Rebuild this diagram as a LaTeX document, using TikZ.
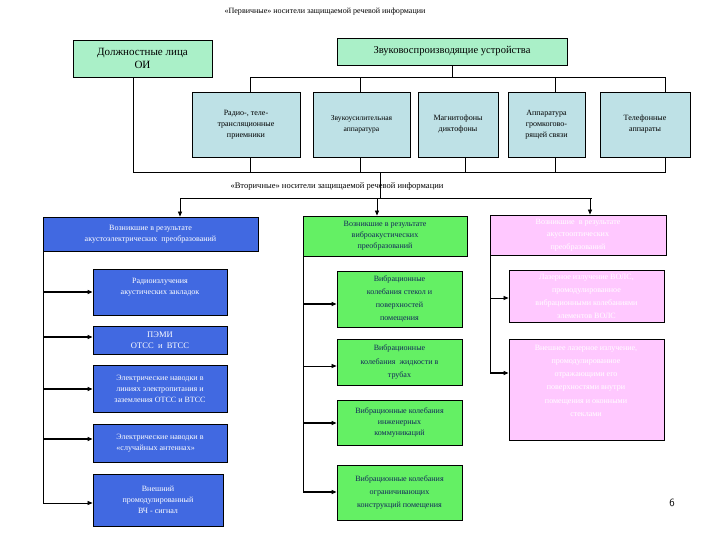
\documentclass[tikz,border=0pt]{standalone}
\usepackage{fontspec}
\setmainfont{Liberation Serif}
\usetikzlibrary{arrows.meta}
\definecolor{lg}{RGB}{170,240,200}
\definecolor{lb}{RGB}{190,225,230}
\definecolor{bb}{RGB}{65,105,225}
\definecolor{gg}{RGB}{100,240,100}
\definecolor{pk}{RGB}{255,200,255}
\definecolor{tx}{RGB}{20,40,90}
\begin{document}
\begin{tikzpicture}[x=0.035cm,y=-0.035cm,
 bx/.style={draw=black,thick,align=center,inner sep=1pt,font=\fontsize{7.5}{9.5}\selectfont},
 ln/.style={thick},
 ar/.style={very thick,-{Triangle[length=5pt,width=4pt]}},
 arr/.style={thick,-{Triangle[length=5pt,width=4pt]}}]
\useasboundingbox (0,0) rectangle (720,540);
\node[font=\fontsize{8}{9}\selectfont] (t1) at (325,12) {«Первичные» носители защищаемой речевой информации};
\newcommand{\bxat}[7]{\node[bx,fill=#5,text=#6,minimum width={(#3-#1)*0.035cm},minimum height={(#4-#2)*0.035cm},text width={(#3-#1)*0.035cm-4pt}] (#7) at ({(#1+#3)/2},{(#2+#4)/2}) {};}
\bxat{73}{40}{212}{77}{lg}{black}{dl}
\node[font=\fontsize{11}{13}\selectfont,align=center] at (dl) {Должностные лица\\ОИ};
\bxat{337}{38}{567}{65}{lg}{black}{zv}
\node[font=\fontsize{10.5}{12}\selectfont] at (zv) {Звуковоспроизводящие устройства};
\bxat{192}{92}{300}{157}{lb}{black}{a1}
\bxat{313}{92}{410}{157}{lb}{black}{a2}
\bxat{418}{92}{498}{157}{lb}{black}{a3}
\bxat{508}{92}{585}{157}{lb}{black}{a4}
\bxat{600}{92}{690}{157}{lb}{black}{a5}
\tikzset{st/.style={align=center,font=\fontsize{8}{11}\selectfont}}
\node[st] at (a1) {Радио-, теле-\\трансляционные\\приемники};
\node[st,font=\fontsize{7.5}{11}\selectfont] at (a2) {Звукоусилительная\\аппаратура};
\node[st] at (a3) {Магнитофоны\\диктофоны};
\node[st] at (a4) {Аппаратура\\громкогово-\\рящей связи};
\node[st] at (a5) {Телефонные\\аппараты};
\coordinate (b1) at (452,77);
\draw[ln] (zv.south) -- (b1);
\draw[ln] (250,92) |- (665,77) -- (665,92);
\draw[ln] (360,77) -- (360,92);
\draw[ln] (555,77) -- (555,92);
\draw[ln] (dl.south -| 133,0) -- (133,172) -- (665,172) -- (a5.south -| 665,0);
\foreach \x/\n in {250/a1,360/a2,465/a3,555/a4} \draw[ln] (\n.south -| \x,0) -- (\x,172);
\draw[ln] (380,172) -- (380,198);
\node[font=\fontsize{8.5}{9}\selectfont] (t2) at (337,186) {«Вторичные» носители защищаемой речевой информации};
\draw[ln] (180,198) -- (592,198);
% blue
\bxat{43}{217}{258}{251}{bb}{white}{h1}
\node[st,text=white] at (h1) {Возникшие в результате\\акустоэлектрических\ \ преобразований};
\bxat{93}{269}{227}{315}{bb}{white}{u1}
\bxat{93}{326}{227}{354}{bb}{white}{u2}
\bxat{93}{365}{227}{412}{bb}{white}{u3}
\bxat{93}{424}{227}{462}{bb}{white}{u4}
\bxat{93}{474}{223}{526}{bb}{white}{u5}
\node[st,text=white] at (160,287) {Радиоизлучения\\акустических закладок};
\node[st,text=white,font=\fontsize{8.5}{11}\selectfont] at (u2) {ПЭМИ\\ОТСС\ \ и\ \ ВТСС};
\node[st,text=white] at (u3) {Электрические наводки в\\линиях электропитания и\\заземления ОТСС и ВТСС};
\node[st,text=white,align=left] at (u4) {Электрические наводки в\\«случайных антеннах»};
\node[st,text=white] at (u5) {Внешний\\промодулированный\\ВЧ - сигнал};
\draw[arr] (180,198) -- (h1.north -| 180,0);
\draw[ln] (43,243) -- (43,503);
\draw[ar] (43,292) -- (u1.west |- 0,292);
\draw[ar] (43,337) -- (u2.west |- 0,337);
\draw[ar] (43,389) -- (u3.west |- 0,389);
\draw[ar] (43,439) -- (u4.west |- 0,439);
\draw[arr] (43,503) -- (u5.west |- 0,503);
% green
\bxat{303}{216}{467}{256}{gg}{tx}{h2}
\node[st,text=tx] at (h2) {Возникшие в результате\\виброакустических\\преобразований};
\bxat{337}{271}{462}{327}{gg}{tx}{g1}
\bxat{337}{339}{462}{385}{gg}{tx}{g2}
\bxat{337}{400}{462}{445}{gg}{tx}{g3}
\bxat{337}{465}{462}{520}{gg}{tx}{g4}
\node[st,text=tx,font=\fontsize{8}{13}\selectfont] at (g1) {Вибрационные\\колебания стекол и\\поверхностей\\помещения};
\node[st,text=tx,font=\fontsize{8}{13}\selectfont] at (g2) {Вибрационные\\колебания\ \ жидкости в\\трубах};
\node[st,text=tx] at (g3) {Вибрационные колебания\\инженерных\\коммуникаций};
\node[st,text=tx,font=\fontsize{8}{12.5}\selectfont] at (g4) {Вибрационные колебания\\ограничивающих\\конструкций помещения};
\draw[arr] (377,198) -- (h2.north -| 377,0);
\draw[ln] (h2.south -| 303,0) -- (303,492);
\draw[ar] (303,304) -- (g1.west |- 0,304);
\draw[arr] (303,366) -- (g2.west |- 0,366);
\draw[ar] (303,423) -- (g3.west |- 0,423);
\draw[ar] (303,492) -- (g4.west |- 0,492);
% pink
\bxat{490}{215}{666}{255}{pk}{white}{h3}
\node[st,text=white,font=\fontsize{8}{12.5}\selectfont] at (h3) {Возникшие\ \ в результате\\акустооптических\\преобразований};
\bxat{509}{270}{664}{322}{pk}{white}{p1}
\bxat{509}{339}{664}{440}{pk}{white}{p2}
\node[st,text=white,font=\fontsize{8}{13}\selectfont] at (p1) {Лазерное излучение ВОЛС,\\промодулированное\\вибрационными колебаниями\\элементов ВОЛС};
\node[st,text=white,anchor=north,font=\fontsize{8}{13}\selectfont] at (586,342) {Внешнее лазерное излучение,\\промодулированное\\отражающими его\\поверхностями внутри\\помещения и оконными\\стеклами};
\draw[arr] (590,198) -- (h3.north -| 590,0);
\draw[ln] (h3.south -| 490,0) -- (490,373);
\draw[arr] (490,298) -- (p1.west |- 0,298);
\draw[ar] (490,373) -- (p2.west |- 0,373);
\node[font=\sffamily\fontsize{11}{12}\selectfont] (pg) at (672,503) {6};
\end{tikzpicture}
\end{document}
